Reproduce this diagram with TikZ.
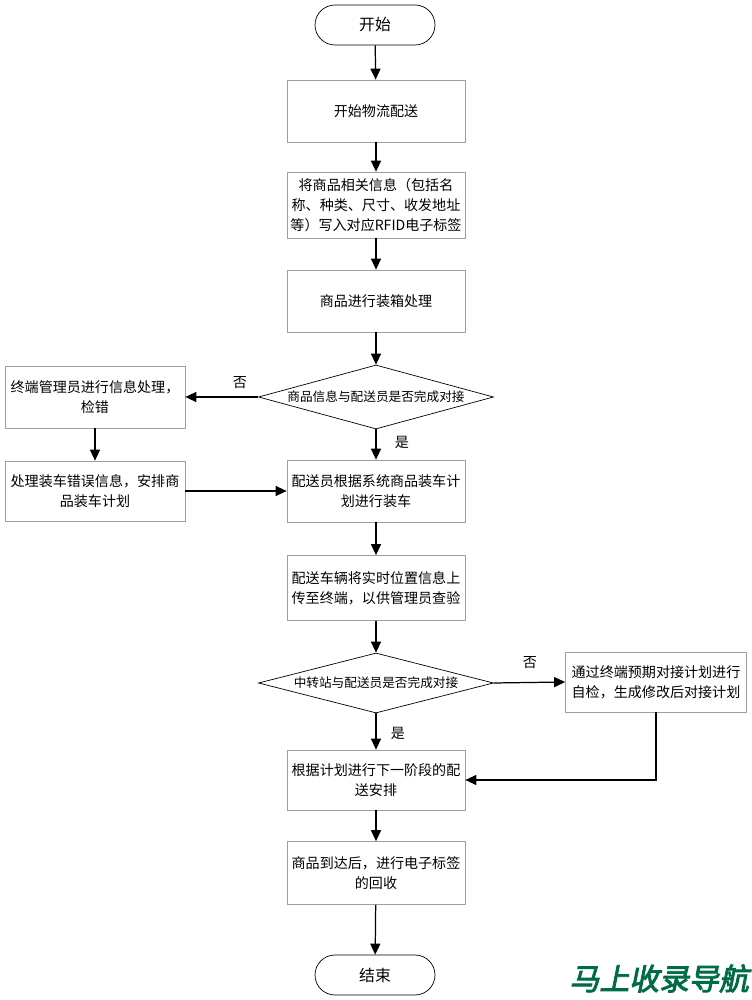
\documentclass[tikz,border=0pt]{standalone}
\usepackage{fontspec}
\setmainfont{Noto Sans CJK SC}
\newfontfamily\wmfont[FakeSlant=0.2,FakeBold=3]{Noto Sans CJK SC}
\usetikzlibrary{shapes.geometric,arrows.meta}
\tikzset{
  box/.style={draw=gray!75,fill=white,minimum width=3.56cm,minimum height=1.24cm,
    align=center,font=\fontsize{8}{11.3}\selectfont,inner sep=1pt},
  term/.style={draw,rounded corners=0.4cm,minimum width=2.4cm,minimum height=0.8cm,
    font=\fontsize{9}{11}\selectfont},
  cond/.style={draw,diamond,minimum width=4.7cm,minimum height=1.28cm,inner sep=0pt},
  condtext/.style={font=\fontsize{7.2}{9}\selectfont},
  lbl/.style={font=\fontsize{8}{10}\selectfont},
  arr/.style={-{Triangle[length=0.22cm,width=0.2cm]},line width=0.7pt}
}
\begin{document}
\begin{tikzpicture}
        \useasboundingbox (0,0) rectangle (15.04,20);
        % 中央の流れ
        \node[term] (start) at (7.5,19.5) {开始};
        \node[box] (send) at (7.52,17.78) {开始物流配送};
        \node[box,minimum height=1.32cm] (write) at (7.52,15.9) {将商品相关信息（包括名\\称、种类、尺寸、收发地址\\等）写入对应RFID电子标签};
        \node[box] (pack) at (7.52,13.98) {商品进行装箱处理};
        \node[cond] (chk1) at (7.52,12.06) {};
        \node[condtext] (chk1t) at (chk1) {商品信息与配送员是否完成对接};
        \node[box] (load) at (7.52,10.18) {配送员根据系统商品装车计\\划进行装车};
        \node[box,minimum height=1.3cm] (gps) at (7.52,8.24) {配送车辆将实时位置信息上\\传至终端，以供管理员查验};
        \node[cond,minimum height=1.2cm] (chk2) at (7.52,6.34) {};
        \node[condtext] (chk2t) at (chk2) {中转站与配送员是否完成对接};
        \node[box,minimum height=1.2cm] (next) at (7.52,4.4) {根据计划进行下一阶段的配\\送安排};
        \node[box,minimum height=1.26cm] (recv) at (7.52,2.54) {商品到达后，进行电子标签\\的回收};
        \node[term] (stop) at (7.5,0.5) {结束};
        % 左側の処理
        \node[box,minimum width=3.6cm] (admin) at (1.9,12.06) {终端管理员进行信息处理，\\检错};
        \node[box,minimum width=3.6cm,minimum height=1.2cm] (fix) at (1.9,10.18) {处理装车错误信息，安排商\\品装车计划};
        % 右側の処理
        \node[box,minimum width=3.62cm,minimum height=1.2cm] (self) at (13.12,6.36) {通过终端预期对接计划进行\\自检，生成修改后对接计划};
        % 矢印
        \draw[arr] (start) -- (send);
        \draw[arr] (send) -- (write);
        \draw[arr] (write) -- (pack);
        \draw[arr] (pack) -- (chk1.north);
        \draw[arr] (chk1.west) -- (admin.east);
        \draw[arr] (chk1.south) -- (load.north);
        \draw[arr] (admin) -- (fix);
        \draw[arr] (fix.east) -- (load.west);
        \draw[arr] (load) -- (gps);
        \draw[arr] (gps) -- (chk2.north);
        \draw[arr] (chk2.east) -- (self.west);
        \draw[arr] (chk2.south) -- (next.north);
        \draw[arr] (self.south) |- (next.east);
        \draw[arr] (next) -- (recv);
        \draw[arr] (recv) -- (stop);
        % 分岐のラベル
        \node[lbl] (no1) at (4.8,12.34) {否};
        \node[lbl] (yes1) at (8.04,11.16) {是};
        \node[lbl] (no2) at (10.6,6.74) {否};
        \node[lbl] (yes2) at (7.96,5.34) {是};
        % 透かし
        \node[text=teal!80!green!70!black,font=\wmfont\fontsize{17}{17}\selectfont,anchor=east] (mark) at (15.1,0.43) {马上收录导航};
      \end{tikzpicture}
\end{document}
